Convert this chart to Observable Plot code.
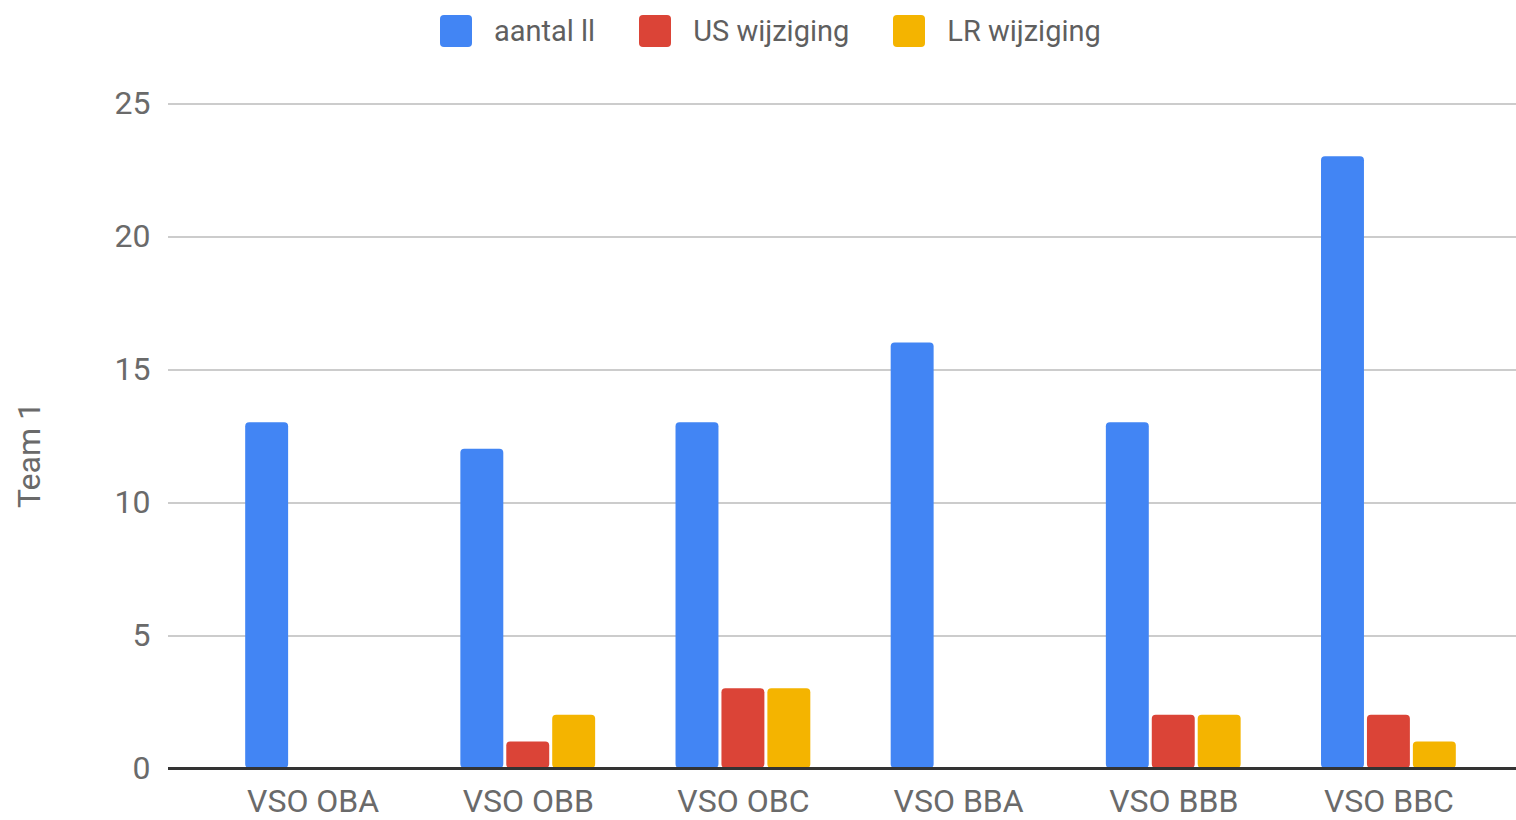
<!DOCTYPE html>
<html><head><meta charset="utf-8">
<script src="https://cdn.jsdelivr.net/npm/d3@7"></script>
<script src="https://cdn.jsdelivr.net/npm/@observablehq/plot@0.6"></script>
<style>
body{margin:0;background:#fff;font-family:Roboto,sans-serif;}
#legend{height:62px;display:flex;align-items:center;padding-left:440px;box-sizing:border-box;}
.item{display:flex;align-items:center;margin-right:44px;font-size:29px;color:#5f5f5f;}
.sw{width:32px;height:32px;border-radius:4px;margin-right:22px;}
</style></head><body>
<div id="legend"></div><div id="chart"></div>
<script>
const groups = ["VSO OBA","VSO OBB","VSO OBC","VSO BBA","VSO BBB","VSO BBC"];
const seriesNames = ["aantal ll","US wijziging","LR wijziging"];
const seriesColors = ["#4285F4","#DB4437","#F4B400"];
const aantalLL = [13,12,13,16,13,23];
const usWijziging = [0,1,3,0,2,2];
const lrWijziging = [0,2,3,0,2,1];
const yTicks = [0,5,10,15,20,25];
const yLabel = "Team 1";

const seriesValues = [aantalLL, usWijziging, lrWijziging];
const data = groups.flatMap((g, i) => seriesNames.map((s, k) => ({group: g, series: s, value: seriesValues[k][i]})));
const gridTicks = yTicks.filter(d => d > 0);

const legend = document.getElementById("legend");
seriesNames.forEach((s, k) => {
  const it = document.createElement("div"); it.className = "item";
  const sw = document.createElement("div"); sw.className = "sw"; sw.style.background = seriesColors[k];
  const t = document.createElement("span"); t.textContent = s;
  it.append(sw, t); legend.append(it);
});

const gridColor = "#cccccc", baseColor = "#333333", textColor = "#6a6a6a";
const crisp = "crispEdges";
const chart = Plot.plot({
  width: 1516, height: 758,
  marginLeft: 205, marginRight: 20, marginTop: 41, marginBottom: 52,
  style: {fontFamily: "Roboto, sans-serif", background: "#fff", overflow: "visible"},
  fx: {domain: groups, padding: 0, round: false, label: null},
  x: {domain: seriesNames, paddingInner: 0.065, paddingOuter: 0.875, round: false, axis: null},
  y: {domain: [0, 25], label: null},
  color: {domain: seriesNames, range: seriesColors},
  marks: [
    Plot.ruleY(gridTicks, {stroke: gridColor, strokeWidth: 2, insetLeft: -1, insetRight: -1, shapeRendering: crisp}),
    Plot.axisY(gridTicks, {anchor: "left", tickSize: 37, tickPadding: 18, fontSize: 32, stroke: gridColor, strokeWidth: 2, fill: textColor, label: null, shapeRendering: crisp}),
    Plot.axisY(gridTicks, {anchor: "right", tickSize: 22, tickFormat: () => "", stroke: gridColor, strokeWidth: 2, label: null, shapeRendering: crisp}),
    Plot.barY(data, {fx: "group", x: "series", y: "value", fill: "series", rx: 4}),
    Plot.ruleY([0], {stroke: baseColor, strokeWidth: 2.5, insetLeft: -1, insetRight: -1, shapeRendering: crisp}),
    Plot.axisY([0], {anchor: "left", tickSize: 37, tickPadding: 18, fontSize: 32, stroke: baseColor, strokeWidth: 2.5, fill: textColor, label: null, shapeRendering: crisp}),
    Plot.axisY([0], {anchor: "right", tickSize: 22, tickFormat: () => "", stroke: baseColor, strokeWidth: 2.5, label: null, shapeRendering: crisp}),
    Plot.text([yLabel], {text: d => d, frameAnchor: "left", facetAnchor: "left", rotate: -90, dx: -176, dy: 19,
      fontSize: 32, fill: textColor, textAnchor: "middle", lineAnchor: "middle"}),
    Plot.axisFx({anchor: "bottom", tickSize: 0, tickPadding: 21, fontSize: 32, fill: textColor, label: null})
  ]
});
document.getElementById("chart").append(chart);
</script>
</body></html>
